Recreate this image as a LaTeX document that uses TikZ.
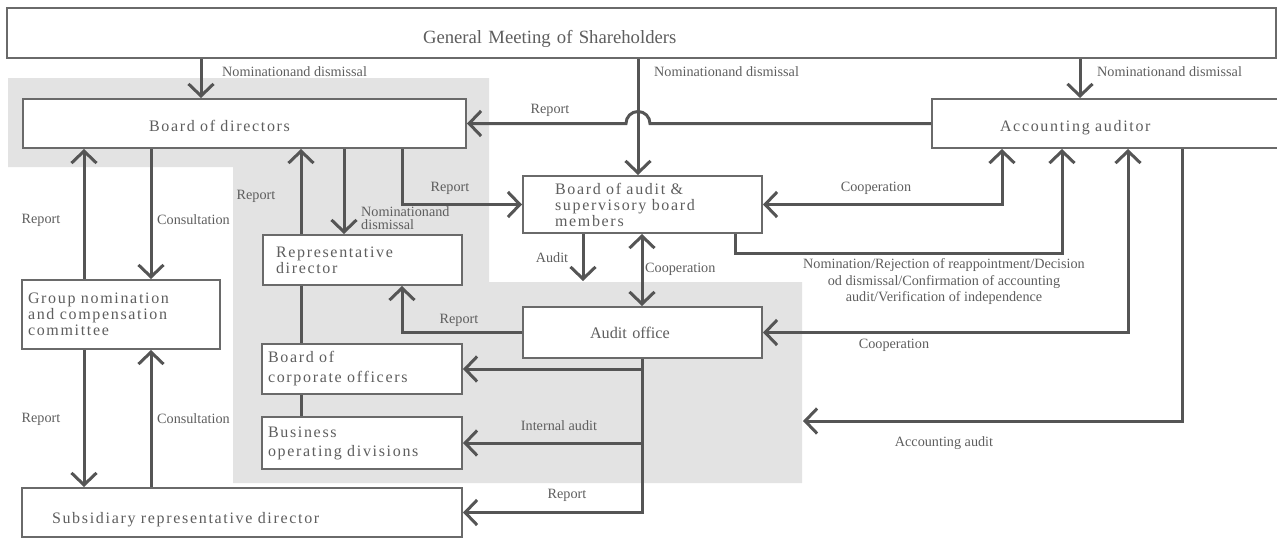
\documentclass[tikz,border=0pt]{standalone}
\usepackage{fontspec}
\setmainfont{Liberation Serif}
\newfontfamily\boxface[LetterSpace=10.5]{Liberation Serif}
\usetikzlibrary{arrows.meta}

\definecolor{panel}{HTML}{E3E3E3}
\definecolor{wire}{HTML}{555555}
\definecolor{edge}{HTML}{6A6A6A}
\definecolor{ink}{HTML}{5E5E5E}

\tikzset{
	box/.style={draw=edge, line width=2pt, fill=white, text=ink, align=left, inner ysep=0pt, anchor=north west, font=\boxface\fontsize{16}{16}\selectfont},
	link/.style={draw=wire, line width=3pt},
	note/.style={text=ink, inner sep=0pt, font=\fontsize{14.2}{16.5}\selectfont}
}

\begin{document}
\begin{tikzpicture}[x=1pt,y=-1pt,>={Straight Barb[length=12pt,width=25pt]}]
		\useasboundingbox (0,0) rectangle (1277,538);
		\clip (0,0) rectangle (1277,538);
		% shaded area of the executive side
		\fill[panel] (8,78) -- (489,78) -- (489,282) -- (802,282) -- (802,483) -- (233,483) -- (233,167) -- (8,167) -- cycle;

		% boxes
		\node[box, inner xsep=416pt, text width=437pt, minimum height=50pt, text height=20.6pt, text depth=0pt, font=\rmfamily\fontsize{18.7}{20}\selectfont] (gms) at (6,7) {General Meeting of Shareholders};
		\node[box, inner xsep=126pt, text width=191pt, minimum height=49pt, text height=15.8pt, text depth=0pt] (bod) at (22,98) {Board of directors};
		\node[box, inner xsep=68pt, text width=218pt, minimum height=49pt, text height=15.8pt, text depth=0pt] (aa) at (931,98) {Accounting auditor};
		\node[box, inner xsep=32pt, text width=175pt, minimum height=57pt] (bta) at (522,175) {Board of audit \&\\supervisory board\\members};
		\node[box, inner xsep=13pt, text width=173pt, minimum height=50pt] (rep) at (262,234) {Representative\\director};
		\node[box, inner xsep=6pt, text width=186pt, minimum height=69pt] (gnc) at (21,279) {Group nomination\\and compensation\\committee};
		\node[box, inner xsep=67pt, text width=105pt, minimum height=51pt, font=\rmfamily\fontsize{16.2}{18}\selectfont] (ao) at (522,306) {Audit office};
		\node[box, inner xsep=6pt, text width=188pt, minimum height=50pt] (bco) at (261,343) {Board of\\[4pt]corporate officers};
		\node[box, inner xsep=6pt, text width=188pt, minimum height=52pt] (biz) at (261,416) {Business\\[3pt]operating divisions};
		\node[box, inner xsep=30pt, text width=380pt, minimum height=49pt, text height=22pt, text depth=0pt] (sub) at (21,487) {Subsidiary representative director};

		% columns of the connectors
		\foreach \n/\x in {xgnc1/84, xgnc2/151, xnom/201, xrep1/301, xrep2/344, xrpt/402, xaud/583, xbta/638, xcoop/642, xlink/735, xacc1/1002, xacc2/1062, xaa/1080, xacc3/1128, xacc4/1182}
			\coordinate (\n) at (\x,0);
		\coordinate (hop) at (aa.west -| xbta);
		\coordinate (audend) at (583,281);
		\coordinate (accend) at (803,421);

		% from the general meeting
		\draw[link,->] (gms.south -| xnom) -- (bod.north -| xnom);
		\draw[link,->] (gms.south -| xbta) -- (bta.north -| xbta);
		\draw[link,->] (gms.south -| xaa) -- (aa.north -| xaa);
		\draw[link,->] (aa.west) -- ([xshift=12pt]hop) arc[start angle=0,end angle=180,radius=12pt] -- (bod.east);

		% board of directors side
		\draw[link,->] (gnc.north -| xgnc1) -- (bod.south -| xgnc1);
		\draw[link,->] (bod.south -| xgnc2) -- (gnc.north -| xgnc2);
		\draw[link,->] (gnc.south -| xgnc1) -- (sub.north -| xgnc1);
		\draw[link,->] (sub.north -| xgnc2) -- (gnc.south -| xgnc2);
		\draw[link,->] (rep.north -| xrep1) -- (bod.south -| xrep1);
		\draw[link,->] (bod.south -| xrep2) -- (rep.north -| xrep2);
		\draw[link] (rep.south -| xrep1) -- (bco.north -| xrep1);
		\draw[link] (bco.south -| xrep1) -- (biz.north -| xrep1);
		\draw[link,->] (bod.south -| xrpt) |- (bta.west);

		% audit side
		\draw[link,->] (bta.south -| xaud) -- (audend);
		\draw[link,<->] (bta.south -| xcoop) -- (ao.north -| xcoop);
		\draw[link,<->] (aa.south -| xacc1) |- (bta.east);
		\draw[link,->] (bta.south -| xlink) -- ++(0,19) -| (aa.south -| xacc2);
		\draw[link,<->] (aa.south -| xacc3) |- (ao.east);
		\draw[link,->] (aa.south -| xacc4) |- (accend);
		\draw[link,->] (ao.west) -| (rep.south -| xrpt);
		\draw[link,->] (ao.south -| xcoop) |- (sub.east);
		\draw[link,->] (xcoop |- bco.east) -- (bco.east);
		\draw[link,->] (xcoop |- biz.east) -- (biz.east);

		% labels
		\node[note, anchor=west] (n1) at (222,72) {Nominationand dismissal};
		\node[note, anchor=west] (n2) at (654,72) {Nominationand dismissal};
		\node[note, anchor=west] (n3) at (1097,72) {Nominationand dismissal};
		\node[note] (r1) at (550,110) {Report};
		\node[note] (r2) at (41,220) {Report};
		\node[note, anchor=west] (c1) at (157,220) {Consultation};
		\node[note] (r3) at (256,196) {Report};
		\node[note, anchor=west, align=left, font=\fontsize{14.2}{13.5}\selectfont] (n4) at (361,218) {Nominationand\\dismissal};
		\node[note] (r4) at (450,188) {Report};
		\node[note] (c2) at (876,188) {Cooperation};
		\node[note] (au) at (552,258) {Audit};
		\node[note, anchor=west] (c3) at (645,269) {Cooperation};
		\node[note, align=center] (nr) at (944,282) {Nomination/Rejection of reappointment/Decision\\od dismissal/Confirmation of accounting\\audit/Verification of independence};
		\node[note] (r5) at (459,320) {Report};
		\node[note] (c4) at (894,345) {Cooperation};
		\node[note] (r6) at (41,419) {Report};
		\node[note, anchor=west] (c5) at (157,419) {Consultation};
		\node[note] (ia) at (559,426) {Internal audit};
		\node[note] (acc) at (944,443) {Accounting audit};
		\node[note] (r7) at (567,495) {Report};
\end{tikzpicture}
\end{document}
